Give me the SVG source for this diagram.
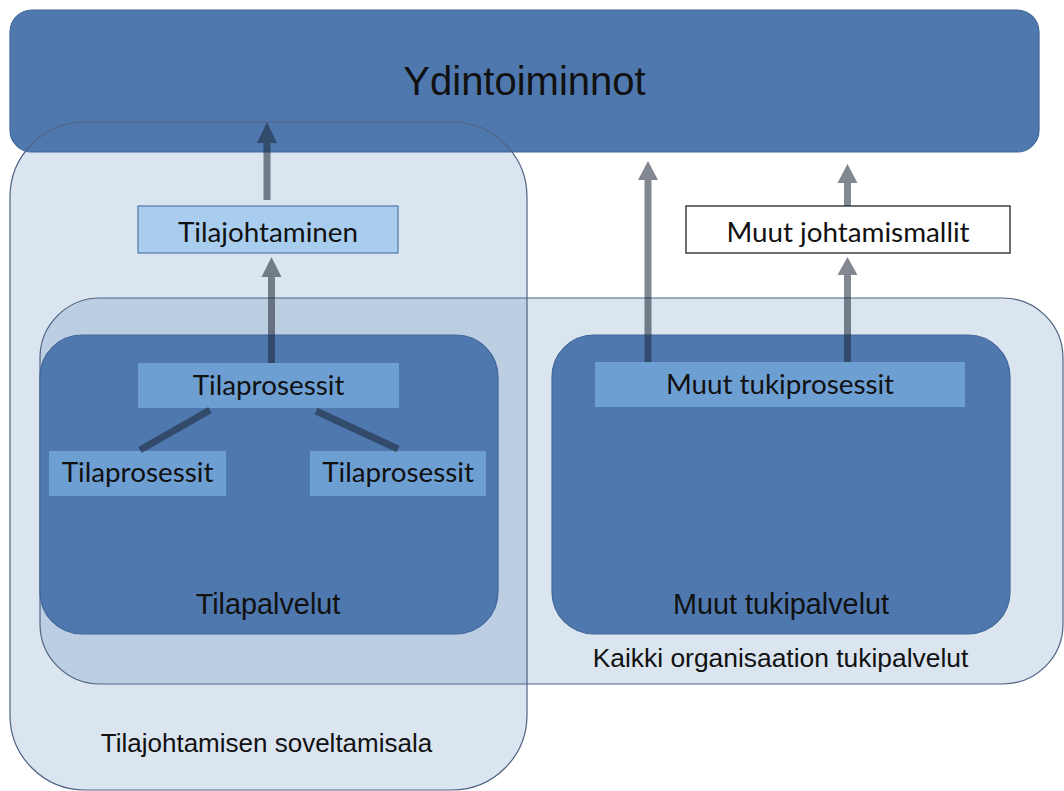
<svg xmlns="http://www.w3.org/2000/svg" width="1064" height="791" viewBox="0 0 1064 791">
  <style>
    .scope { fill: #dae5f0; }
    .scope-line { fill: none; stroke: #4f6383; stroke-width: 1.2; }
    .core { fill: #4f78af; stroke: #40679b; stroke-width: 1.2; }
    .service { fill: #4f78af; stroke: #41669a; stroke-width: 1.2; }
    .proc { fill: #6e9fd3; }
    .mgmt { fill: #a9cdee; stroke: #5578a8; stroke-width: 1.2; }
    .other { fill: #ffffff; stroke: #333333; stroke-width: 1.4; }
    .arrow { fill: #1c2635; fill-opacity: 0.55; }
    .link { stroke: #1c2635; stroke-opacity: 0.55; stroke-width: 7; }
    .sans { font-family: "Liberation Sans", Arial, sans-serif; fill: #111111; text-anchor: middle; }
    .body { font-family: Lato, "Noto Sans", sans-serif; fill: #111111; text-anchor: middle; font-size: 27.8px; }
  </style>
  <defs>
    <clipPath id="scopeClip">
      <rect x="10" y="122" width="517" height="668" rx="75" ry="75"/>
    </clipPath>
  </defs>

  <!-- scope of facility management (background) -->
  <g id="scope-facility">
    <rect class="scope" x="10" y="122" width="517" height="668" rx="75" ry="75"/>
  </g>

  <!-- all support services of the organisation -->
  <g id="scope-support">
    <rect class="scope" x="40" y="298" width="1023" height="386" rx="60" ry="60"/>
    <rect x="40" y="298" width="1023" height="386" rx="60" ry="60" fill="#bccfe2" clip-path="url(#scopeClip)"/>
  </g>

  <!-- core operations -->
  <g id="core">
    <rect class="core" x="10" y="10" width="1029" height="142" rx="22" ry="22"/>
    <text class="sans" x="524.5" y="95" font-size="40">Ydintoiminnot</text>
  </g>

  <!-- outlines of the overlapping scopes -->
  <g id="scope-outlines">
    <rect class="scope-line" x="10" y="122" width="517" height="668" rx="75" ry="75"/>
    <rect class="scope-line" x="40" y="298" width="1023" height="386" rx="60" ry="60"/>
    <text class="sans" x="266.5" y="752" font-size="26">Tilajohtamisen soveltamisala</text>
    <text class="sans" x="780.5" y="667" font-size="26.4">Kaikki organisaation tukipalvelut</text>
  </g>

  <g id="facility-services">
    <rect class="service" x="40" y="335" width="458" height="299" rx="42" ry="42"/>
    <text class="sans" x="268" y="614" font-size="28.8">Tilapalvelut</text>
  </g>

  <g id="other-services">
    <rect class="service" x="552" y="335" width="458" height="299" rx="42" ry="42"/>
    <text class="sans" x="781" y="614" font-size="28.8">Muut tukipalvelut</text>
  </g>

  <g id="facility-management">
    <rect class="mgmt" x="138" y="206" width="260" height="47"/>
    <text class="body" x="268" y="242">Tilajohtaminen</text>
  </g>

  <g id="other-management">
    <rect class="other" x="686" y="206" width="324" height="47"/>
    <text class="body" x="848" y="242">Muut johtamismallit</text>
  </g>

  <g id="facility-processes">
    <rect class="proc" x="138" y="363" width="261" height="45"/>
    <text class="body" x="268.5" y="395">Tilaprosessit</text>
  </g>

  <g id="facility-processes-a">
    <rect class="proc" x="49" y="451" width="177" height="45"/>
    <text class="body" x="137.5" y="482">Tilaprosessit</text>
  </g>

  <g id="facility-processes-b">
    <rect class="proc" x="310" y="451" width="176" height="45"/>
    <text class="body" x="398" y="482">Tilaprosessit</text>
  </g>

  <g id="other-processes">
    <rect class="proc" x="595" y="362" width="370" height="45"/>
    <text class="body" x="780" y="394">Muut tukiprosessit</text>
  </g>

  <!-- arrows and links -->
  <g id="connectors">
    <path class="arrow" d="M263.5,200 V143 H257 L267,122 L277,143 H270.5 V200 Z"/>
    <path class="arrow" d="M268,363 V277 H261.5 L271.5,257 L281.5,277 H275 V363 Z"/>
    <path class="arrow" d="M644.5,362 V180 H638 L648,161 L658,180 H651.5 V362 Z"/>
    <path class="arrow" d="M844,206 V183 H837.5 L847.5,164 L857.5,183 H851 V206 Z"/>
    <path class="arrow" d="M844,362 V275 H837.5 L847.5,257 L857.5,275 H851 V362 Z"/>
    <line class="link" x1="210" y1="410" x2="140" y2="450"/>
    <line class="link" x1="316" y1="411" x2="398" y2="449"/>
  </g>
</svg>
